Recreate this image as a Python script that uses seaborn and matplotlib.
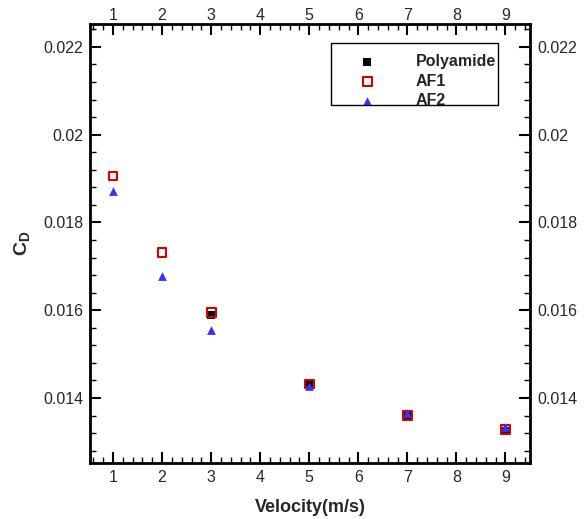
import matplotlib
matplotlib.use("Agg")
import matplotlib.pyplot as plt
import seaborn as sns
from matplotlib.ticker import MultipleLocator, FuncFormatter
from matplotlib.patches import Rectangle

sns.set_style("ticks")
plt.rcParams['font.family'] = ['Liberation Sans', 'DejaVu Sans']
plt.rcParams['mathtext.fontset'] = 'custom'
plt.rcParams['mathtext.bf'] = 'Liberation Sans:bold'
plt.rcParams['mathtext.rm'] = 'Liberation Sans'

# Data
poly_v = [3, 5, 7, 9]
poly_cd = [0.01589, 0.014335, 0.01359, 0.01324]
af1_v = [1, 2, 3, 5, 7, 9]
af1_cd = [0.01906, 0.01731, 0.01595, 0.01432, 0.013605, 0.01329]
af2_v = [1, 2, 3, 5, 7, 9]
af2_cd = [0.018725, 0.01678, 0.015545, 0.01428, 0.01365, 0.01335]

fig = plt.figure(figsize=(5.85, 5.19), dpi=100)
ax = fig.add_axes([90/585, 1 - 463/519, 440/585, 439/519])

sns.scatterplot(x=poly_v, y=poly_cd, ax=ax, marker='s', color='black',
                s=36, linewidth=0, label='Polyamide', zorder=3)
sns.scatterplot(x=af1_v, y=af1_cd, ax=ax, marker='s', facecolor='none',
                edgecolor='#d40000', linewidth=1.5, s=40, label='AF1', zorder=4)
sns.scatterplot(x=af2_v, y=af2_cd, ax=ax, marker='^', color='#3333ff',
                s=40, linewidth=0, label='AF2', zorder=5)

ax.set_xlim(0.53, 9.5)
ax.set_ylim(0.01252, 0.02252)
ax.xaxis.set_major_locator(MultipleLocator(1))
ax.xaxis.set_minor_locator(MultipleLocator(0.2))
ax.yaxis.set_major_locator(MultipleLocator(0.002))
ax.yaxis.set_minor_locator(MultipleLocator(0.0004))
yfmt = FuncFormatter(lambda v, p: ('%.3f' % v).rstrip('0'))
ax.yaxis.set_major_formatter(yfmt)

ax.tick_params(which='both', direction='in', top=True, right=True,
               labeltop=False, labelright=True, labelsize=11.5, color='black', pad=5)
ax.tick_params(which='major', length=8, width=1.5)
ax.tick_params(which='minor', length=4, width=1)
for sp in ax.spines.values():
    sp.set_linewidth(2)
    sp.set_color('black')

# top labels closer to frame
sec = ax.secondary_xaxis('top')
sec.xaxis.set_major_locator(MultipleLocator(1))
sec.xaxis.set_minor_locator(MultipleLocator(0.2))
sec.tick_params(which='both', length=0, labelsize=11.5, pad=1)
sec.spines['top'].set_visible(False)

ax.set_xlabel('Velocity(m/s)', fontsize=13, fontweight='bold', labelpad=10)
ax.set_ylabel(r'$\mathbf{C_D}$', fontsize=14, labelpad=8)

leg = ax.legend(loc='upper right', bbox_to_anchor=(0.934, 0.942), frameon=False,
                handletextpad=1.0, borderpad=0.3, labelspacing=0.27,
                handlelength=4.1, prop={'weight': 'bold', 'size': 11.5},
                borderaxespad=0)
ax.add_patch(Rectangle((0.548, 0.8155), 0.927 - 0.548, 0.9567 - 0.8155,
                       transform=ax.transAxes, fill=False, edgecolor='black',
                       linewidth=1, zorder=6))

fig.savefig('out.png', dpi=100)
